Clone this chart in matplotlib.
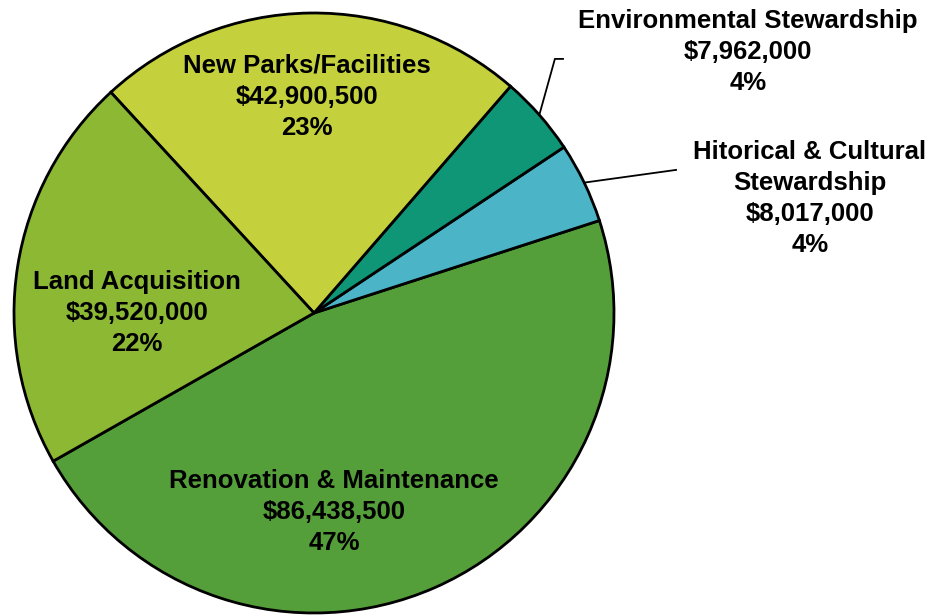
import numpy as np
import matplotlib
matplotlib.use('Agg')
import matplotlib.pyplot as plt

plt.rcParams['font.family'] = ['Liberation Sans', 'DejaVu Sans']

# slices, counter-clockwise from the Renovation wedge
names = ['Renovation & Maintenance', 'Hitorical & Cultural\nStewardship',
         'Environmental Stewardship', 'New Parks/Facilities', 'Land Acquisition']
amounts = [86438500, 8017000, 7962000, 42900500, 39520000]
pct_labels = ['47%', '4%', '4%', '23%', '22%']
colors = ['#559f3a', '#4bb4c6', '#0f9677', '#c4d13c', '#8cb833']

# label centres (pie radius = 1)
label_pos = [(0.067, -0.663), (1.653, 0.383), (1.447, 0.87),
             (-0.023, 0.72), (-0.59, 0.0)]

fig = plt.figure(figsize=(9.32, 6.15), dpi=100)
W, H = 932., 615.
cx, cy, r = 314., 313., 300.
ax = fig.add_axes([(cx - r) / W, (H - cy - r) / H, 2 * r / W, 2 * r / H])

total = float(sum(amounts))
start = -150.4
wedges, _ = ax.pie(amounts, colors=colors, startangle=start, counterclock=True,
                   radius=1.0, wedgeprops=dict(edgecolor='black', linewidth=2))
ax.set_xlim(-1, 1)
ax.set_ylim(-1, 1)
ax.set_aspect('equal')
ax.axis('off')

for i, (nm, amt, pc) in enumerate(zip(names, amounts, pct_labels)):
    txt = '%s\n$%s\n%s' % (nm, format(amt, ','), pc)
    x, y = label_pos[i]
    ax.text(x, y, txt.replace('$', r'\$'), ha='center', va='center',
            fontsize=18.5, fontweight='bold', linespacing=1.37, clip_on=False)

# leader lines for the two small slices
theta = start
mids = []
for a in amounts:
    span = a / total * 360
    mids.append(np.deg2rad(theta + span / 2))
    theta += span

m = mids[2]
ax.plot([np.cos(m), 0.803, 0.83], [np.sin(m), 0.847, 0.847],
        color='black', lw=1.3, clip_on=False)
m = mids[1]
ax.plot([np.cos(m), 1.207], [np.sin(m), 0.477],
        color='black', lw=1.3, clip_on=False)

fig.savefig('out.png', dpi=100)
